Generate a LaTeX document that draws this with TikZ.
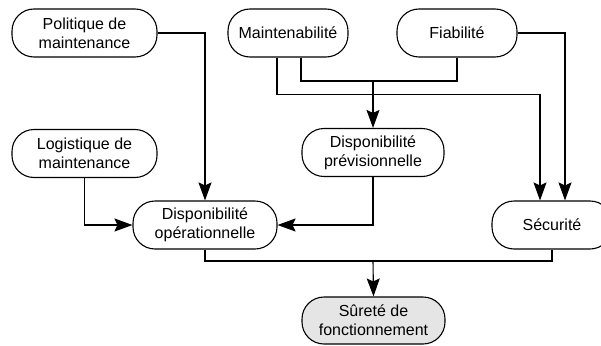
\documentclass[tikz,border=0pt]{standalone}
\usepackage{fontspec}
\setmainfont{Liberation Sans}
\usetikzlibrary{arrows.meta,calc}
\tikzset{
  box/.style={draw=black, line width=1.1pt, rectangle, rounded corners=22pt,
    minimum height=48pt, align=center, inner sep=0pt,
    font=\fontsize{16}{19}\selectfont},
  conn/.style={draw=black, line width=1.1pt},
  arr/.style={conn, -{Stealth[length=18pt, width=13pt, inset=3pt]}},
}
\begin{document}
\begin{tikzpicture}[x=1pt, y=-1pt]
\useasboundingbox (0,0) rectangle (601,345);
\node[box, minimum width=145pt] (pol) at (84.5,33) {Politique de\\maintenance};
\node[box, minimum width=145pt] (logi) at (84.5,153.5) {Logistique de\\maintenance};
\node[box, minimum width=120pt] (maint) at (288,33) {Maintenabilité};
\node[box, minimum width=120pt] (fiab) at (457,33) {Fiabilité};
\node[box, minimum width=142pt] (dprev) at (373,152.5) {Disponibilité\\prévisionnelle};
\node[box, minimum width=144pt] (dop) at (205,225) {Disponibilité\\opérationnelle};
\node[box, minimum width=120pt] (secu) at (552,225) {Sécurité};
\node[box, minimum width=143pt, minimum height=47pt, fill=black!10] (sur) at (373.5,320.5) {Sûreté de\\fonctionnement};

\coordinate (j1) at (373,81);
\coordinate (j2) at (373,261);

% Politique -> Disp op
\draw[arr] (pol.east) -| (dop.north);
% Logistique -> Disp op
\draw[arr] (logi.south) |- (dop.west);
% Disp prev -> Disp op
\draw[arr] (dprev.south) |- (dop.east);
% Maintenabilite + Fiabilite -> Disp prev
\draw[conn] ($(maint.south)+(13,0)$) |- (j1) -| (fiab.south);
\draw[arr] (j1) -- (dprev.north);
% Maintenabilite -> Securite
\draw[arr] ($(maint.south)+(-11,0)$) |- ($(secu.north)+(-12,-106)$) -- ($(secu.north)+(-12,0)$);
% Fiabilite -> Securite
\draw[arr] (fiab.east) -| ($(secu.north)+(13,0)$);
% Disp op + Securite -> Surete
\draw[conn] (dop.south) |- (j2) -| (secu.south);
\draw[arr] (j2) -- (sur.north);
\end{tikzpicture}
\end{document}
